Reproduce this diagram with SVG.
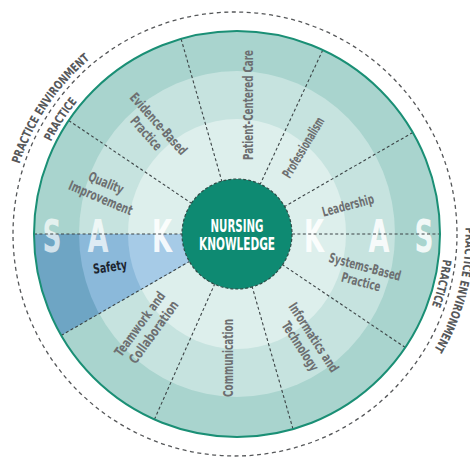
<svg xmlns="http://www.w3.org/2000/svg" xmlns:xlink="http://www.w3.org/1999/xlink" width="470" height="459" viewBox="0 0 470 459">
<style>
.f{font-family:'Liberation Sans Narrow','DejaVu Sans Condensed','Open Sans',sans-serif;font-weight:700}
.lbl{font-size:13.5px;fill:#6d6f71;text-anchor:middle}
.rad{stroke:#3c4446;stroke-width:1.1;stroke-dasharray:3 2.4;fill:none}
.big{font-size:45px;fill:#ffffff;text-anchor:middle}
.outer{font-size:12px;fill:#56585a;text-anchor:middle}
</style>
<defs>
<clipPath id="safetyClip"><path d="M237,234 L17,234 A220,220 0 0 0 46.5,344 Z"/></clipPath>
<path id="envPath" d="M8.5,234 A228.5,228.5 0 1 1 465.5,234 A228.5,228.5 0 1 1 8.5,234"/>
<path id="pracPath" d="M29.5,234 A207.5,207.5 0 1 1 444.5,234 A207.5,207.5 0 1 1 29.5,234"/>
</defs>
<rect width="470" height="459" fill="#ffffff"/>
<g id="rings">
<circle cx="237" cy="234" r="203" fill="#a9d4ce"/>
<ellipse cx="237" cy="234" rx="158" ry="163" fill="#c6e3df"/>
<ellipse cx="237" cy="234" rx="109" ry="115" fill="#ddefec"/>
</g>
<g id="node-safety-wedge" clip-path="url(#safetyClip)">
<circle cx="237" cy="234" r="203" fill="#6ea5c4"/>
<ellipse cx="237" cy="234" rx="158" ry="163" fill="#8bb9da"/>
<ellipse cx="237" cy="234" rx="109" ry="115" fill="#a6cbe7"/>
</g>
<g id="sak-letters" class="f big">
<text x="52" y="252" fill-opacity="0.7" textLength="19" lengthAdjust="spacingAndGlyphs">S</text>
<text x="98" y="252" fill-opacity="0.72" textLength="21" lengthAdjust="spacingAndGlyphs">A</text>
<text x="162" y="252" fill-opacity="0.9" textLength="20" lengthAdjust="spacingAndGlyphs">K</text>
<text x="314" y="252" fill-opacity="0.9" textLength="20" lengthAdjust="spacingAndGlyphs">K</text>
<text x="379" y="252" fill-opacity="0.85" textLength="21" lengthAdjust="spacingAndGlyphs">A</text>
<text x="424" y="252" fill-opacity="0.85" textLength="19" lengthAdjust="spacingAndGlyphs">S</text>
</g>
<g id="connectors" class="rad">
<line x1="34" y1="234" x2="182" y2="234"/>
<line x1="292" y1="234" x2="440" y2="234"/>
<line x1="412.8" y1="132.5" x2="284.6" y2="206.5"/>
<line x1="322.8" y1="50" x2="260.2" y2="184.2"/>
<line x1="181.1" y1="38.9" x2="221.8" y2="181.1"/>
<line x1="68.7" y1="120.5" x2="191.4" y2="203.2"/>
<line x1="61.2" y1="335.5" x2="189.4" y2="261.5"/>
<line x1="154.4" y1="419.4" x2="214.6" y2="284.2"/>
<line x1="293" y1="429.1" x2="252.2" y2="286.9"/>
<line x1="405.3" y1="347.5" x2="282.6" y2="264.8"/>
</g>
<g id="node-nursing-knowledge">
<circle cx="237" cy="234" r="55" fill="#0e8a72" stroke="#2e4f49" stroke-width="1.2" stroke-dasharray="3 2"/>
<text class="f" x="237" y="232" font-size="17" fill="#ffffff" text-anchor="middle" textLength="53" lengthAdjust="spacingAndGlyphs">NURSING</text>
<text class="f" x="237" y="250" font-size="17" fill="#ffffff" text-anchor="middle" textLength="76" lengthAdjust="spacingAndGlyphs">KNOWLEDGE</text>
</g>
<g id="node-patient-centered-care" class="f lbl" transform="translate(248,105) rotate(-90)">
<text x="0" y="4.5" textLength="110" lengthAdjust="spacingAndGlyphs">Patient-Centered Care</text>
</g>
<g id="node-professionalism" class="f lbl" transform="translate(303.5,147.5) rotate(-59)">
<text x="0" y="4.5" textLength="68" lengthAdjust="spacingAndGlyphs">Professionalism</text>
</g>
<g id="node-leadership" class="f lbl" transform="translate(348,205.5) rotate(-15)">
<text x="0" y="4.5" textLength="53" lengthAdjust="spacingAndGlyphs">Leadership</text>
</g>
<g id="node-systems-based-practice" class="f lbl" transform="translate(365,267) rotate(15)">
<text x="0" y="4.5" textLength="74" lengthAdjust="spacingAndGlyphs">Systems-Based</text>
<text x="0" y="20" textLength="40" lengthAdjust="spacingAndGlyphs">Practice</text>
</g>
<g id="node-informatics-technology" class="f lbl" transform="translate(313.5,337.5) rotate(57)">
<text x="0" y="4.5" textLength="80" lengthAdjust="spacingAndGlyphs">Informatics and</text>
<text x="0" y="20.5" textLength="56" lengthAdjust="spacingAndGlyphs">Technology</text>
</g>
<g id="node-communication" class="f lbl" transform="translate(228,358) rotate(-90)">
<text x="0" y="4.5" textLength="78" lengthAdjust="spacingAndGlyphs">Communication</text>
</g>
<g id="node-teamwork-collaboration" class="f lbl" transform="translate(140,324) rotate(-54)">
<text x="0" y="4.5" textLength="76" lengthAdjust="spacingAndGlyphs">Teamwork and</text>
<text x="1.5" y="20.5" textLength="74" lengthAdjust="spacingAndGlyphs">Collaboration</text>
</g>
<g id="node-evidence-based-practice" class="f lbl" transform="translate(158.5,124) rotate(48)">
<text x="0" y="4.5" textLength="78" lengthAdjust="spacingAndGlyphs">Evidence-Based</text>
<text x="-1.3" y="20" textLength="40" lengthAdjust="spacingAndGlyphs">Practice</text>
</g>
<g id="node-quality-improvement" class="f lbl" transform="translate(106,183) rotate(23)">
<text x="0" y="4.5" textLength="37" lengthAdjust="spacingAndGlyphs">Quality</text>
<text x="1" y="20.5" textLength="68" lengthAdjust="spacingAndGlyphs">Improvement</text>
</g>
<g id="node-safety" class="f lbl" transform="translate(110,267) rotate(-8)">
<text x="0" y="4.5" fill="#1c2530" textLength="34" lengthAdjust="spacingAndGlyphs">Safety</text>
</g>
<circle id="outer-edge" cx="237" cy="234" r="203" fill="none" stroke="#1a8f75" stroke-width="2"/>
<circle id="practice-environment-boundary" cx="235" cy="234" r="222" fill="none" stroke="#555759" stroke-width="1.3" stroke-dasharray="4 3.5"/>
<g id="outer-labels" class="f outer">
<text><textPath xlink:href="#envPath" startOffset="135.2" textLength="128" lengthAdjust="spacingAndGlyphs">PRACTICE ENVIRONMENT</textPath></text>
<text><textPath xlink:href="#pracPath" startOffset="119.5" textLength="48" lengthAdjust="spacingAndGlyphs">PRACTICE</textPath></text>
<text><textPath xlink:href="#envPath" startOffset="774.9" textLength="128" lengthAdjust="spacingAndGlyphs">PRACTICE ENVIRONMENT</textPath></text>
<text><textPath xlink:href="#pracPath" startOffset="701.1" textLength="48" lengthAdjust="spacingAndGlyphs">PRACTICE</textPath></text>
</g>
</svg>
